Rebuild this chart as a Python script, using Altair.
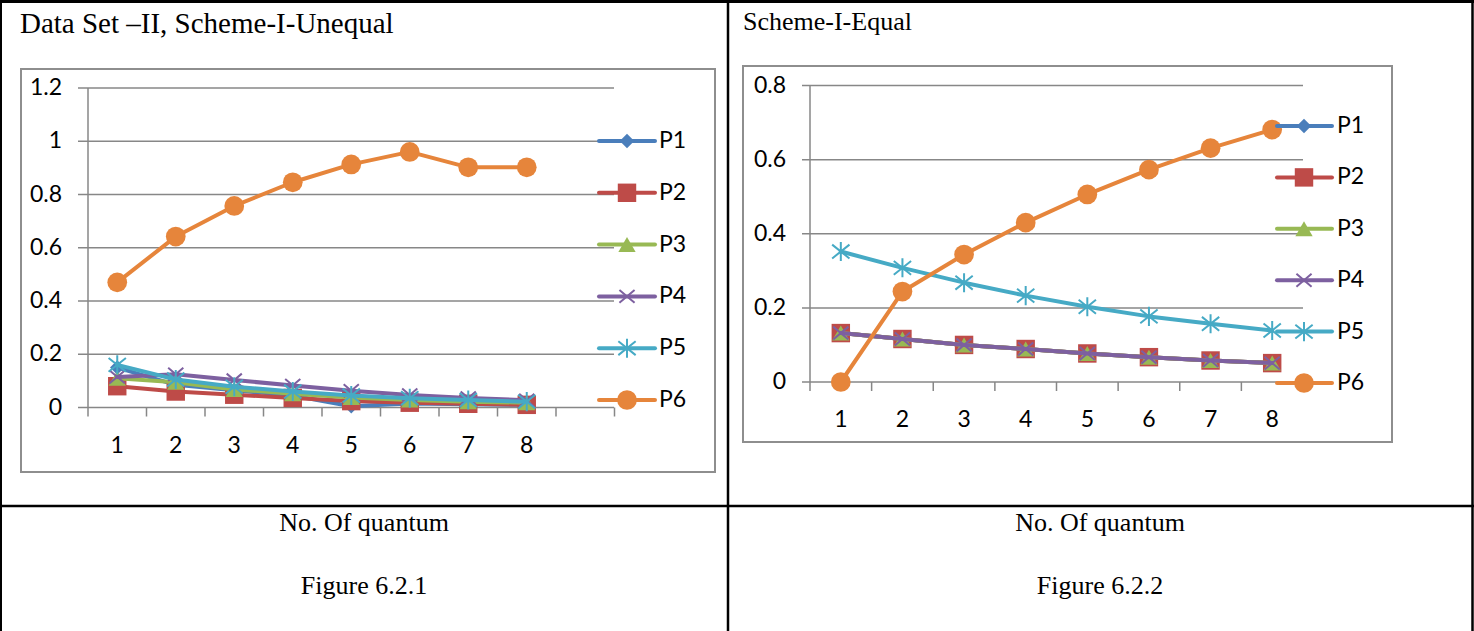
import altair as alt
import pandas as pd

# ---------------- data ----------------
quantum = [1, 2, 3, 4, 5, 6, 7, 8]
series = ["P1", "P2", "P3", "P4", "P5", "P6"]

unequal_P1 = [0.150, 0.085, 0.065, 0.045, 0.005, 0.015, 0.012, 0.010]
unequal_P2 = [0.080, 0.060, 0.048, 0.036, 0.024, 0.018, 0.014, 0.010]
unequal_P3 = [0.110, 0.095, 0.068, 0.052, 0.038, 0.028, 0.022, 0.018]
unequal_P4 = [0.115, 0.125, 0.103, 0.083, 0.063, 0.047, 0.036, 0.027]
unequal_P5 = [0.160, 0.105, 0.078, 0.060, 0.045, 0.035, 0.028, 0.022]
unequal_P6 = [0.470, 0.642, 0.757, 0.846, 0.913, 0.960, 0.902, 0.902]

equal_P1 = [0.132, 0.116, 0.100, 0.089, 0.077, 0.067, 0.058, 0.051]
equal_P2 = [0.132, 0.116, 0.100, 0.089, 0.077, 0.067, 0.058, 0.051]
equal_P3 = [0.132, 0.116, 0.100, 0.089, 0.077, 0.067, 0.058, 0.051]
equal_P4 = [0.132, 0.116, 0.100, 0.089, 0.077, 0.067, 0.058, 0.051]
equal_P5 = [0.352, 0.308, 0.268, 0.233, 0.203, 0.177, 0.157, 0.139]
equal_P6 = [0.000, 0.244, 0.344, 0.430, 0.506, 0.573, 0.631, 0.681]

yticks_left = [0, 0.2, 0.4, 0.6, 0.8, 1.0, 1.2]
ylabels_left = ["0", "0.2", "0.4", "0.6", "0.8", "1", "1.2"]
yticks_right = [0, 0.2, 0.4, 0.6, 0.8]
ylabels_right = ["0", "0.2", "0.4", "0.6", "0.8"]

title_left = "Data Set \u2013II, Scheme-I-Unequal"
title_right = "Scheme-I-Equal"
axis_caption = "No. Of quantum"
figure_left = "Figure 6.2.1"
figure_right = "Figure 6.2.2"

unequal = [unequal_P1, unequal_P2, unequal_P3, unequal_P4, unequal_P5, unequal_P6]
equal = [equal_P1, equal_P2, equal_P3, equal_P4, equal_P5, equal_P6]

# ---------------- styles ----------------
colors = ["#4A7EBB", "#BE4B48", "#98B954", "#7D60A0", "#46AAC5", "#E6853B"]
X_PATH = "M-1,-0.85L1,0.85M-1,0.85L1,-0.85"
STAR_PATH = "M-1,-0.8L1,0.8M-1,0.8L1,-0.8M0,-1.1L0,1.1"
shapes = ["diamond", "square", "triangle-up", X_PATH, STAR_PATH, "circle"]
filled = [True, True, True, False, False, True]
sizes = [210, 340, 300, 230, 300, 390]
GRID = "#878787"
FRAME = "#8E8E8E"
LABEL_FONT = "Lato"
SERIF = "Liberation Serif"

dummy = alt.Data(values=[{"a": 1}])

panels = [
    dict(values=unequal, xdom=[0.5, 9.5], xr=[88, 614.5], ydom=[0, 1.2], yr=[407.5, 88],
         yticks=yticks_left, ylabels=ylabels_left, nslots=9,
         frame=(21, 69, 715, 472), gx=(78, 614), ylab_x=62, xlab_y=446,
         leg=(599, 655, 627, 659), legy=[141, 400]),
    dict(values=equal, xdom=[0.5, 8.5], xr=[810, 1303], ydom=[0, 0.8], yr=[382, 85.5],
         yticks=yticks_right, ylabels=ylabels_right, nslots=8,
         frame=(743, 66, 1392, 442), gx=(802, 1303), ylab_x=786, xlab_y=420,
         leg=(1277, 1332, 1304, 1337), legy=[126, 383]),
]

layers = []

# table borders
def hline(y, x1, x2, w):
    return alt.Chart(dummy).mark_rule(color="black", strokeWidth=w).encode(
        x=alt.value(x1), x2=alt.value(x2), y=alt.value(y), y2=alt.value(y))

def vline(x, y1, y2, w):
    return alt.Chart(dummy).mark_rule(color="black", strokeWidth=w).encode(
        x=alt.value(x), x2=alt.value(x), y=alt.value(y1), y2=alt.value(y2))

layers += [hline(1.5, 0, 1474, 3), hline(506, 0, 1474, 2.5),
           vline(1, 0, 631, 2), vline(728, 0, 631, 2.5), vline(1472.5, 0, 631, 2.5)]

# texts in table cells
def text(t, x, y, size, align="left"):
    return alt.Chart(dummy).mark_text(font=SERIF, fontSize=size, align=align,
                                      baseline="alphabetic", color="black").encode(
        x=alt.value(x), y=alt.value(y), text=alt.value(t))

layers += [text(title_left, 20, 33, 29), text(title_right, 743, 30, 26),
           text(axis_caption, 364, 531, 26, "center"), text(axis_caption, 1100, 531, 26, "center"),
           text(figure_left, 364, 594, 26, "center"), text(figure_right, 1100, 594, 26, "center")]

for p in panels:
    xs = alt.Scale(domain=p["xdom"], range=p["xr"], nice=False, zero=False)
    ys = alt.Scale(domain=p["ydom"], range=p["yr"], nice=False, zero=False)
    fx1, fy1, fx2, fy2 = p["frame"]
    # chart frame
    layers.append(alt.Chart(dummy).mark_rect(fillOpacity=0, stroke=FRAME, strokeWidth=2).encode(
        x=alt.value(fx1), x2=alt.value(fx2), y=alt.value(fy1), y2=alt.value(fy2)))
    # gridlines
    gdf = pd.DataFrame({"v": p["yticks"], "lab": p["ylabels"]})
    layers.append(alt.Chart(gdf).mark_rule(color=GRID, strokeWidth=1.5).encode(
        y=alt.Y("v:Q", scale=ys, axis=None), x=alt.value(p["gx"][0]), x2=alt.value(p["gx"][1])))
    # y axis line
    layers.append(alt.Chart(pd.DataFrame({"v": [p["ydom"][0]], "v2": [p["ydom"][1]]})).mark_rule(
        color=GRID, strokeWidth=1.5).encode(
        y=alt.Y("v:Q", scale=ys, axis=None), y2="v2:Q", x=alt.value(p["xr"][0])))
    # x ticks at category boundaries
    bdf = pd.DataFrame({"b": [k + 0.5 for k in range(p["nslots"] + 1)]})
    y0 = p["yr"][0]
    layers.append(alt.Chart(bdf).mark_rule(color=GRID, strokeWidth=1.5).encode(
        x=alt.X("b:Q", scale=xs, axis=None), y=alt.value(y0), y2=alt.value(y0 + 9)))
    # y labels
    layers.append(alt.Chart(gdf).mark_text(font=LABEL_FONT, fontSize=23, align="right",
                                           baseline="middle", color="black").encode(
        y=alt.Y("v:Q", scale=ys, axis=None), x=alt.value(p["ylab_x"]), text="lab:N"))
    # x labels
    xdf = pd.DataFrame({"q": quantum, "lab": [str(q) for q in quantum]})
    layers.append(alt.Chart(xdf).mark_text(font=LABEL_FONT, fontSize=23, align="center",
                                           baseline="middle", color="black").encode(
        x=alt.X("q:Q", scale=xs, axis=None), y=alt.value(p["xlab_y"]), text="lab:N"))
    # series
    for i, s in enumerate(series):
        df = pd.DataFrame({"q": quantum, "v": p["values"][i]})
        layers.append(alt.Chart(df).mark_line(color=colors[i], strokeWidth=4,
                                              strokeCap="round", strokeJoin="round").encode(
            x=alt.X("q:Q", scale=xs, axis=None), y=alt.Y("v:Q", scale=ys, axis=None)))
        if filled[i]:
            pm = alt.Chart(df).mark_point(shape=shapes[i], filled=True, opacity=1,
                                          color=colors[i], size=sizes[i])
        else:
            pm = alt.Chart(df).mark_point(shape=shapes[i], filled=False, opacity=1,
                                          color=colors[i], size=sizes[i], strokeWidth=2)
        layers.append(pm.encode(x=alt.X("q:Q", scale=xs, axis=None),
                                y=alt.Y("v:Q", scale=ys, axis=None)))
    # legend
    lx1, lx2, lmx, ltx = p["leg"]
    ls = alt.Scale(type="point", domain=series, range=p["legy"], padding=0)
    for i, s in enumerate(series):
        ldf = pd.DataFrame({"s": [s]})
        layers.append(alt.Chart(ldf).mark_rule(color=colors[i], strokeWidth=4, strokeCap="round").encode(
            y=alt.Y("s:N", scale=ls, axis=None), x=alt.value(lx1), x2=alt.value(lx2)))
        if filled[i]:
            pm = alt.Chart(ldf).mark_point(shape=shapes[i], filled=True, opacity=1,
                                           color=colors[i], size=sizes[i])
        else:
            pm = alt.Chart(ldf).mark_point(shape=shapes[i], filled=False, opacity=1,
                                           color=colors[i], size=sizes[i], strokeWidth=2)
        layers.append(pm.encode(y=alt.Y("s:N", scale=ls, axis=None), x=alt.value(lmx)))
        layers.append(alt.Chart(ldf).mark_text(font=LABEL_FONT, fontSize=23, align="left",
                                               baseline="middle", color="black").encode(
            y=alt.Y("s:N", scale=ls, axis=None), x=alt.value(ltx), text="s:N"))

chart = alt.layer(*layers).resolve_scale(x="independent", y="independent").properties(
    width=1474, height=631, autosize=alt.AutoSizeParams(type="none"), padding=0,
    background="white"
).configure_view(strokeWidth=0)

chart.save("out.html", embed_options={"renderer": "svg", "actions": False})
